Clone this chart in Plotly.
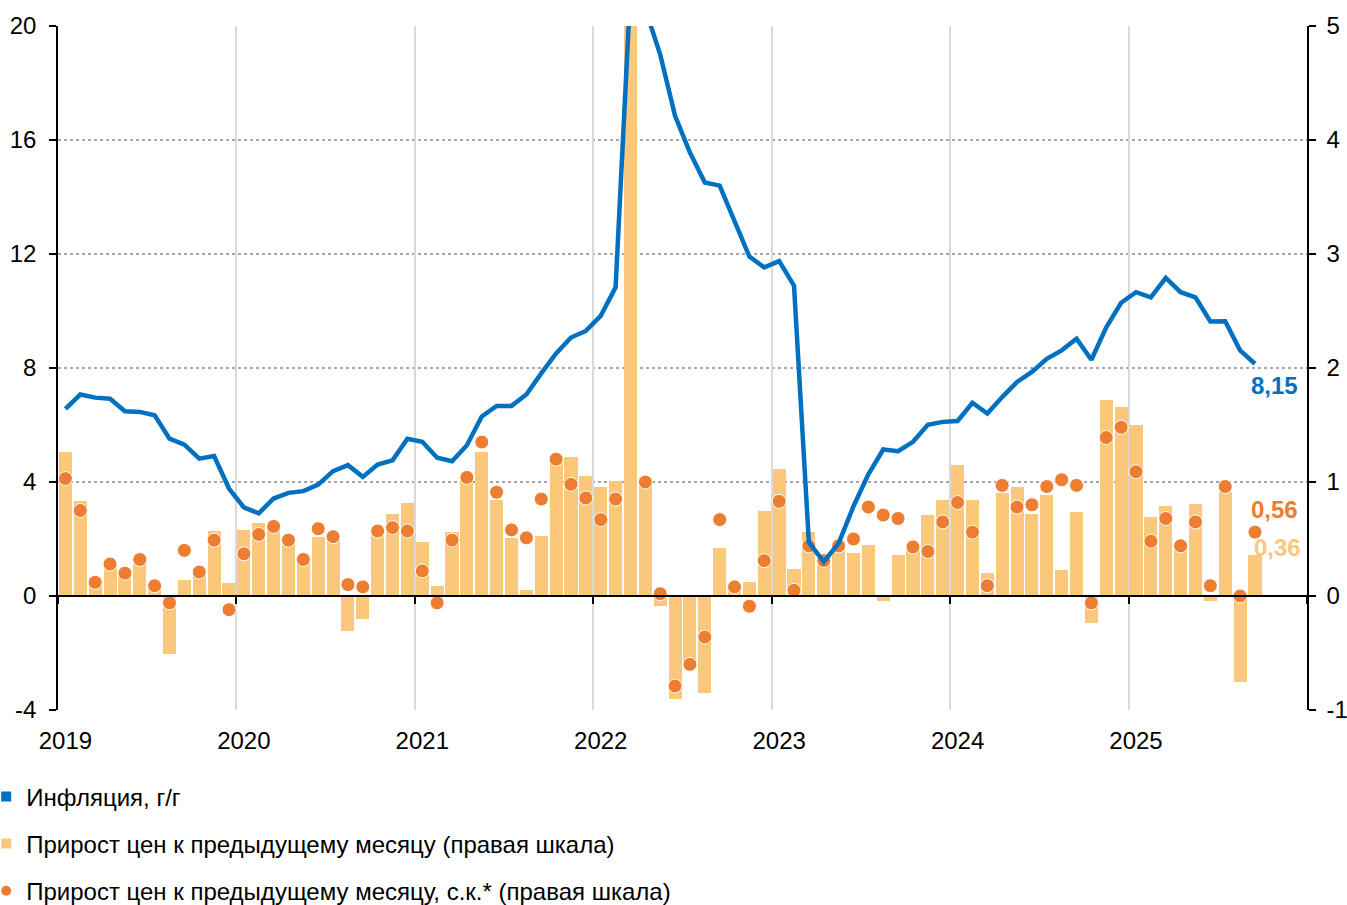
import plotly.graph_objects as go

# ---------------- data ----------------
years = [2019, 2020, 2021, 2022, 2023, 2024, 2025]
year_labels = [str(y) for y in years]
months = [f"{y}-{m:02d}" for y in years for m in range(1, 13)][:81]  # 2019-01 .. 2025-09

# Inflation, y/y (left scale)
infl_yoy = [6.57, 7.07, 6.96, 6.92, 6.48, 6.46, 6.34, 5.52, 5.31, 4.82, 4.91, 3.77,
            3.11, 2.90, 3.42, 3.62, 3.68, 3.91, 4.38, 4.59, 4.18, 4.61, 4.76, 5.52,
            5.41, 4.85, 4.73, 5.29, 6.30, 6.67, 6.67, 7.07, 7.81, 8.51, 9.07, 9.30,
            9.83, 10.83, 21.3, 20.6, 19.0, 16.85, 15.56, 14.51, 14.40, 13.15, 11.91, 11.53,
            11.75, 10.89, 1.88, 1.20, 1.85, 3.15, 4.27, 5.14, 5.08, 5.41, 6.01, 6.11,
            6.14, 6.78, 6.40, 6.98, 7.51, 7.86, 8.32, 8.62, 9.03, 8.29, 9.43, 10.29,
            10.66, 10.48, 11.16, 10.66, 10.48, 9.63, 9.64, 8.62, 8.15]

# Price growth m/m (right scale)
mom = [1.26, 0.83, 0.14, 0.27, 0.21, 0.31, 0.08, -0.51, 0.14, 0.19, 0.57, 0.11,
       0.58, 0.64, 0.62, 0.50, 0.31, 0.52, 0.52, -0.31, -0.20, 0.57, 0.72, 0.82,
       0.47, 0.09, 0.56, 1.05, 1.26, 0.84, 0.51, 0.05, 0.53, 1.21, 1.22, 1.05,
       0.96, 1.01, 7.5, 1.04, -0.09, -0.90, -0.60, -0.85, 0.42, 0.10, 0.12, 0.75,
       1.11, 0.24, 0.56, 0.33, 0.48, 0.38, 0.45, -0.04, 0.36, 0.42, 0.71, 0.84,
       1.15, 0.84, 0.20, 0.90, 0.96, 0.72, 0.89, 0.23, 0.74, -0.24, 1.72, 1.66,
       1.50, 0.69, 0.79, 0.45, 0.81, -0.04, 0.91, -0.75, 0.36]

# Price growth m/m, seasonally adjusted (right scale)
mom_sa = [1.03, 0.75, 0.12, 0.28, 0.20, 0.32, 0.09, -0.06, 0.40, 0.21, 0.49, -0.12,
          0.37, 0.54, 0.61, 0.49, 0.32, 0.59, 0.52, 0.10, 0.08, 0.57, 0.60, 0.57,
          0.22, -0.06, 0.49, 1.04, 1.35, 0.91, 0.58, 0.51, 0.85, 1.20, 0.98, 0.86,
          0.67, 0.85, 6.0, 1.00, 0.02, -0.79, -0.60, -0.36, 0.67, 0.08, -0.09, 0.31,
          0.83, 0.05, 0.44, 0.31, 0.44, 0.50, 0.78, 0.71, 0.68, 0.43, 0.39, 0.65,
          0.82, 0.56, 0.09, 0.97, 0.78, 0.80, 0.96, 1.02, 0.97, -0.06, 1.39, 1.48,
          1.09, 0.48, 0.68, 0.44, 0.65, 0.09, 0.96, 0.00, 0.56]

left_ticks = [-4, 0, 4, 8, 12, 16, 20]
right_ticks = [-1, 0, 1, 2, 3, 4, 5]

names = ["Инфляция, г/г",
         "Прирост цен к предыдущему месяцу (правая шкала)",
         "Прирост цен к предыдущему месяцу, с.к.* (правая шкала)"]

BLUE = "#0070C0"
BAR = "#F9C87A"
DOT = "#ED7D31"
FONT = "Liberation Sans, Arial, sans-serif"
FS = 24

x = list(range(len(months)))
year_pos = [12 * i for i in range(len(years))]
boundaries = [12 * i - 0.5 for i in range(len(years) + 1)]

fig = go.Figure()

fig.add_trace(go.Bar(x=x, y=mom, yaxis="y", xaxis="x", width=0.88,
                     marker=dict(color=BAR, line=dict(width=0)),
                     showlegend=False, name=names[1]))
fig.add_trace(go.Scatter(x=x, y=mom_sa, yaxis="y", xaxis="x", mode="markers",
                         marker=dict(color=DOT, size=14, line=dict(color="white", width=1)),
                         showlegend=False, name=names[2]))
fig.add_trace(go.Scatter(x=x, y=infl_yoy, yaxis="y2", xaxis="x", mode="lines",
                         line=dict(color=BLUE, width=4.5),
                         showlegend=False, name=names[0]))

# legend entries (no marks drawn)
for nm, col, sym, grp in [(names[0], BLUE, "square", "a"),
                          (names[1], BAR, "square", "b"),
                          (names[2], DOT, "circle", "c")]:
    fig.add_trace(go.Scatter(x=[None], y=[None], xaxis="x2", yaxis="y", mode="markers",
                             marker=dict(color=col, size=10, symbol=sym),
                             name=nm, legendgroup=grp, showlegend=True))

fig.update_layout(
    width=1347, height=905,
    margin=dict(l=58, r=40, t=26, b=195, autoexpand=False),
    paper_bgcolor="white", plot_bgcolor="white",
    font=dict(family=FONT, size=FS, color="black"),
    bargap=0,
    xaxis=dict(range=[-0.5, 83.5], tickvals=year_pos, ticktext=year_labels,
               showgrid=False, zeroline=False, showline=False,
               ticks="outside", ticklen=9, tickcolor="rgba(0,0,0,0)"),
    xaxis2=dict(overlaying="x", anchor="free", position=4 / 24,
                range=[-0.5, 83.5], tickvals=boundaries, showticklabels=False,
                ticks="outside", ticklen=7, tickwidth=1.5, tickcolor="black",
                showgrid=True, gridcolor="#D9D9D9", gridwidth=1.5,
                showline=True, linecolor="black", linewidth=2, zeroline=False),
    yaxis=dict(side="right", range=[-1, 5], tickvals=right_ticks,
               ticktext=[str(v) for v in right_ticks],
               showline=True, linecolor="black", linewidth=1.5,
               ticks="outside", ticklen=7, tickwidth=1.5, tickcolor="black",
               showgrid=False, zeroline=False, ticklabelstandoff=6),
    yaxis2=dict(overlaying="y", side="left", range=[-4, 20], tickvals=left_ticks,
                ticktext=[str(v) for v in left_ticks],
                showline=True, linecolor="black", linewidth=1.5,
                ticks="outside", ticklen=7, tickwidth=1.5, tickcolor="black",
                showgrid=True, griddash="dot", gridcolor="#A6A6A6", gridwidth=1.5,
                zeroline=False, ticklabelstandoff=8),
    legend=dict(x=-0.0575, xanchor="left", y=-0.094, yanchor="top",
                orientation="v", traceorder="grouped", tracegroupgap=13,
                font=dict(size=FS), bgcolor="rgba(0,0,0,0)"),
)

last = len(months) - 1
fig.add_annotation(x=last, y=infl_yoy[last], xref="x", yref="y2",
                   text="<b>" + f"{infl_yoy[last]:.2f}".replace(".", ",") + "</b>",
                   showarrow=False, xanchor="left", yanchor="middle", xshift=-6, yshift=-22,
                   font=dict(color=BLUE, size=FS, family=FONT))
fig.add_annotation(x=last, y=mom_sa[last], xref="x", yref="y",
                   text="<b>" + f"{mom_sa[last]:.2f}".replace(".", ",") + "</b>",
                   showarrow=False, xanchor="left", yanchor="middle", xshift=-6, yshift=23,
                   font=dict(color=DOT, size=FS, family=FONT))
fig.add_annotation(x=last, y=mom[last], xref="x", yref="y",
                   text="<b>" + f"{mom[last]:.2f}".replace(".", ",") + "</b>",
                   showarrow=False, xanchor="left", yanchor="middle", xshift=-3, yshift=7,
                   font=dict(color=BAR, size=FS, family=FONT))

fig.write_html("out.html", config={"displayModeBar": False},
               post_script="document.body.style.margin='0px';document.body.style.overflow='hidden';")
